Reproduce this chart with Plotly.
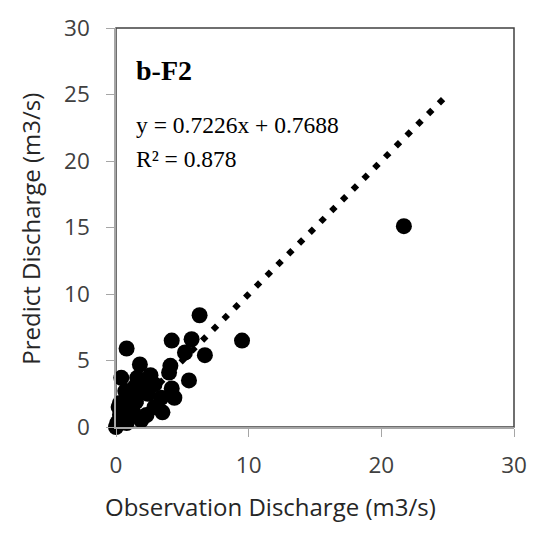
import plotly.graph_objects as go

# Observed vs predicted discharge (m3/s)
obs = [0.0, 0.1, 0.2, 0.8, 0.3, 0.2, 0.3, 1.3, 1.9, 0.5, 1.5, 0.7, 1.4, 2.4, 0.4,
       1.6, 2.6, 2.9, 1.8, 2.3, 2.9, 3.5, 3.4, 4.4, 4.2, 4.0, 4.1, 5.5, 5.2, 6.7,
       4.2, 5.7, 6.3, 9.5, 0.8, 21.7, 1.0, 2.0, 1.2, 0.6, 1.7]
pred = [0.0, 0.3, 0.4, 0.3, 0.9, 1.5, 1.8, 1.1, 0.5, 0.6, 1.9, 2.7, 3.0, 2.5, 3.7,
        3.7, 3.9, 3.2, 4.7, 0.9, 1.5, 1.1, 2.2, 2.2, 2.9, 4.1, 4.6, 3.5, 5.6, 5.4,
        6.5, 6.6, 8.4, 6.5, 5.9, 15.1, 2.0, 3.0, 2.4, 1.2, 2.6]

# Reference line end points
ref_x = [0, 25]
ref_y = [0, 25]

x_ticks = [0, 10, 20, 30]
y_ticks = [0, 5, 10, 15, 20, 25, 30]

fig = go.Figure()
fig.add_trace(go.Scatter(x=ref_x, y=ref_y, mode="lines",
                         line=dict(color="black", width=6, dash="6px,9.24px"),
                         hoverinfo="skip", showlegend=False))
fig.add_trace(go.Scatter(x=obs, y=pred, mode="markers",
                         marker=dict(color="black", size=16, line=dict(width=0)),
                         cliponaxis=False, showlegend=False))

tickfont = dict(family="Open Sans", size=22.5, color="#404040")
fig.update_xaxes(range=[0, 30], tickvals=x_ticks, showgrid=False, zeroline=False,
                 showline=True, linecolor="#a6a6a6", linewidth=1.5,
                 ticks="outside", ticklen=8, tickcolor="#a6a6a6", tickwidth=1,
                 ticklabelstandoff=9, tickfont=tickfont)
fig.update_yaxes(range=[0, 30], tickvals=y_ticks, showgrid=False, zeroline=False,
                 showline=True, linecolor="#a6a6a6", linewidth=1.5,
                 ticks="outside", ticklen=8, tickcolor="#a6a6a6", tickwidth=1,
                 ticklabelstandoff=12, tickfont=tickfont)

fig.add_shape(type="rect", xref="paper", yref="paper", x0=0, y0=0, x1=1, y1=1,
              line=dict(color="#404040", width=1.5), layer="below")

serif = "Liberation Serif"
fig.add_annotation(xref="paper", yref="paper", x=0.045, y=0.894, xanchor="left",
                   yanchor="middle", text="<b>b-F2</b>", showarrow=False,
                   font=dict(family=serif, size=28, color="black"))
fig.add_annotation(xref="paper", yref="paper", x=0.045, y=0.758, xanchor="left",
                   yanchor="middle", text="y = 0.7226x + 0.7688", showarrow=False,
                   font=dict(family=serif, size=23.5, color="black"))
fig.add_annotation(xref="paper", yref="paper", x=0.045, y=0.672, xanchor="left",
                   yanchor="middle", text="R² = 0.878", showarrow=False,
                   font=dict(family=serif, size=23.5, color="black"))

titlefont = dict(family="Open Sans", size=24, color="#262626")
fig.add_annotation(xref="paper", yref="paper", x=0.387, y=-0.2, xanchor="center",
                   yanchor="middle", text="Observation Discharge (m3/s)",
                   showarrow=False, font=titlefont)
fig.add_annotation(xref="paper", yref="paper", x=-0.217, y=0.496, xanchor="center",
                   yanchor="middle", text="Predict Discharge (m3/s)", textangle=-90,
                   showarrow=False, font=titlefont)

fig.update_layout(width=539, height=534, plot_bgcolor="white", paper_bgcolor="white",
                  margin=dict(l=116, r=17, t=22, b=107), showlegend=False)

fig.write_html("out.html")
